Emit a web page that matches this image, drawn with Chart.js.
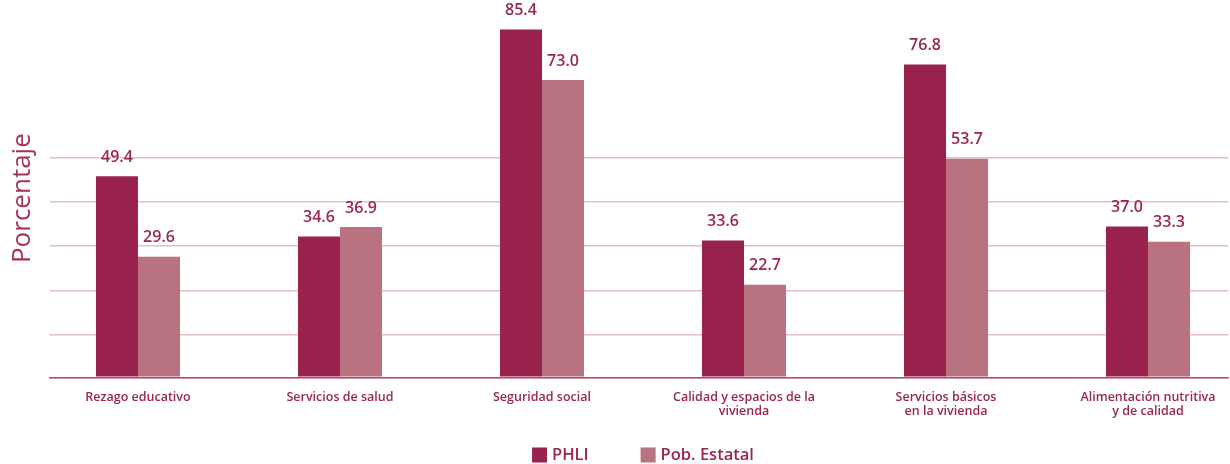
<!DOCTYPE html>
<html>
<head>
<meta charset="utf-8">
<script src="https://cdn.jsdelivr.net/npm/chart.js@4.4.1/dist/chart.umd.min.js"></script>
<style>
  html, body { margin: 0; padding: 0; background: #ffffff; }
  #wrap { width: 1230px; height: 464px; position: relative; }
</style>
</head>
<body>
<div id="wrap"><canvas id="c" width="1230" height="464"></canvas></div>
<script>
const categories = [
  'Rezago educativo',
  'Servicios de salud',
  'Seguridad social',
  ['Calidad y espacios de la', 'vivienda'],
  ['Servicios básicos', 'en la vivienda'],
  ['Alimentación nutritiva', 'y de calidad']
];
const seriesNames = ['PHLI', 'Pob. Estatal'];
const phli = [49.4, 34.6, 85.4, 33.6, 76.8, 37.0];
const estatal = [29.6, 36.9, 73.0, 22.7, 53.7, 33.3];

const FONT = "'Open Sans', 'DejaVu Sans', sans-serif";
const TEXT = '#9a2553';
const COL_PHLI = '#99224f';
const COL_EST = '#b87280';
const GRID_STEP = 10.9;
const GRID_SHIFT = 0.5;

function toPoints(arr) { return arr.map((v, i) => ({ x: i, y: v })); }

const valueLabels = {
  id: 'valueLabels',
  afterDatasetsDraw(chart) {
    const ctx = chart.ctx;
    ctx.save();
    ctx.font = "600 16px " + FONT;
    ctx.fillStyle = TEXT;
    ctx.textAlign = 'center';
    ctx.textBaseline = 'middle';
    chart.data.datasets.forEach((ds, di) => {
      const meta = chart.getDatasetMeta(di);
      meta.data.forEach((el, i) => {
        ctx.fillText(ds.data[i].y.toFixed(1), el.x, el.y - 19);
      });
    });
    ctx.restore();
  }
};

const customLegend = {
  id: 'customLegend',
  afterDraw(chart) {
    const ctx = chart.ctx;
    const area = chart.chartArea;
    ctx.save();
    ctx.font = "600 16.5px " + FONT;
    ctx.textBaseline = 'middle';
    const box = 15, gapText = 5, gapItem = 52;
    const items = chart.data.datasets.map(ds => ({ text: ds.label, color: ds.backgroundColor }));
    const widths = items.map(it => box + gapText + ctx.measureText(it.text).width);
    const total = widths.reduce((a, b) => a + b, 0) + gapItem * (items.length - 1);
    let x = (area.left + area.right) / 2 - total / 2 + 4;
    const yc = 455;
    items.forEach((it, i) => {
      ctx.fillStyle = it.color;
      ctx.fillRect(x, yc - box / 2, box, box);
      ctx.fillStyle = TEXT;
      ctx.textAlign = 'left';
      ctx.fillText(it.text, x + box + gapText, yc);
      x += widths[i] + gapItem;
    });
    ctx.restore();
  }
};

new Chart(document.getElementById('c'), {
  type: 'bar',
  data: {
    datasets: [
      { label: seriesNames[0], data: toPoints(phli), backgroundColor: COL_PHLI, borderWidth: 0 },
      { label: seriesNames[1], data: toPoints(estatal), backgroundColor: COL_EST, borderWidth: 0 }
    ]
  },
  options: {
    responsive: false,
    animation: false,
    devicePixelRatio: 1,
    categoryPercentage: 0.416,
    barPercentage: 1,
    clip: false,
    layout: { padding: { top: 19, right: 2, bottom: 32, left: 0 } },
    plugins: {
      legend: { display: false },
      tooltip: { enabled: false }
    },
    scales: {
      x: {
        type: 'linear',
        min: -0.4356,
        max: 5.396,
        offset: false,
        grid: { display: false, drawTicks: false },
        border: { display: true, color: '#bb4470', width: 1.5 },
        afterBuildTicks(scale) {
          scale.ticks = categories.map((_, i) => ({ value: i }));
        },
        ticks: {
          autoSkip: false,
          maxRotation: 0,
          padding: 13,
          color: TEXT,
          font: { family: FONT, size: 12.5, weight: '600', lineHeight: 1.15 },
          callback: (v) => categories[v]
        }
      },
      y: {
        min: 0,
        max: 88,
        afterBuildTicks(scale) {
          scale.ticks = [0, 1, 2, 3, 4, 5].map(k => ({ value: k ? k * GRID_STEP - GRID_SHIFT : 0 }));
        },
        afterFit(scale) { scale.width = 50; },
        grid: { color: '#e6bcc8', lineWidth: 1.5, drawTicks: false },
        border: { display: false },
        ticks: { display: false },
        title: {
          display: true,
          text: 'Porcentaje',
          color: '#a3325e',
          font: { family: FONT, size: 26, weight: '400' },
          padding: { top: 7, bottom: 0 }
        }
      }
    }
  },
  plugins: [valueLabels, customLegend]
});
</script>
</body>
</html>
